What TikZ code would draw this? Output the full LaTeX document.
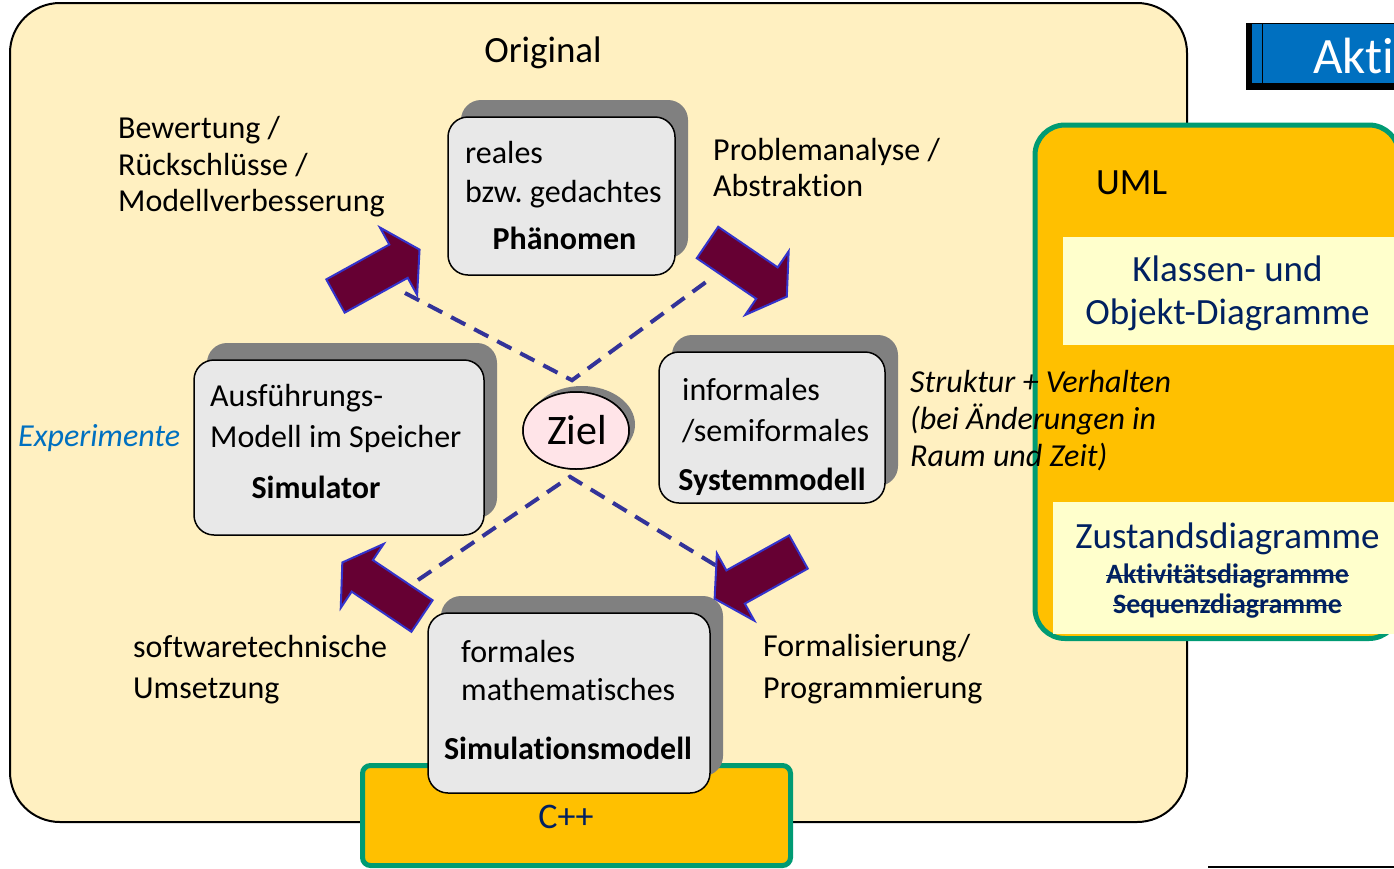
\documentclass[tikz,border=0pt]{standalone}
\usepackage{fontspec}
\setmainfont{Carlito}[Ligatures=NoCommon]
\usetikzlibrary{shapes.geometric,shadows}
\frenchspacing

\definecolor{beige}{RGB}{255,240,193}
\definecolor{gold}{RGB}{255,192,0}
\definecolor{umlgreen}{RGB}{0,155,115}
\definecolor{paleyellow}{RGB}{255,255,204}
\definecolor{navytext}{RGB}{0,32,96}
\definecolor{boxgray}{RGB}{232,232,232}
\definecolor{shadowgray}{RGB}{128,128,128}
\definecolor{zielpink}{RGB}{255,228,232}
\definecolor{arrowfill}{RGB}{102,0,51}
\definecolor{arrowedge}{RGB}{51,51,204}
\definecolor{dashblue}{RGB}{51,51,153}
\definecolor{expblue}{RGB}{0,112,192}

\tikzset{
  fs/.style={font=\fontsize{#1}{#1}\selectfont},
  lbl/.style={inner sep=0pt, anchor=base west, fs=32},
  lblc/.style={inner sep=0pt, anchor=base, fs=32},
  phasebox/.style={draw=black, line width=1.5pt, fill=boxgray, rounded corners=20pt,
    inner sep=0pt, general shadow={fill=shadowgray, shadow xshift=13pt, shadow yshift=17pt}},
  umlframe/.style={draw=umlgreen, line width=5pt, fill=gold, inner sep=0pt},
  notebox/.style={fill=paleyellow, inner sep=0pt},
  goal/.style={dash pattern=on 16pt off 10pt, line width=4pt, draw=dashblue},
  arrowbody/.style={fill=arrowfill, draw=arrowedge, line width=2pt, line join=miter},
  blockarrow/.pic={
    \path[arrowbody] (0,-19) -- (72,-19) -- (72,-38.5) -- (96,0) -- (72,38.5) -- (72,19) -- (0,19) -- cycle;
  },
}

\begin{document}
\begin{tikzpicture}[x=1pt,y=-1pt]
\useasboundingbox (0,0) rectangle (1394,868);
\begin{scope}
\clip (0,0) rectangle (1394,868);

% outer frame
\node[draw=black, line width=2pt, fill=beige, rounded corners=50pt, inner sep=0pt,
      minimum width=1177pt, minimum height=819pt] (orig) at (598.5,412.5) {};
\node[lblc, fs=37] (t-orig) at (543,62) {Original};

% heading bar, cut by the page edge
\node[fill=black, inner sep=0pt, minimum width=160pt, minimum height=67pt, anchor=north west] (bar) at (1246,23) {};
\node[fill=expblue, inner sep=0pt, minimum width=160pt, minimum height=59pt, anchor=north west] (barin) at (1252,24) {};
\draw[black, line width=1.5pt] ([xshift=10.5pt]barin.north west) -- ([xshift=10.5pt]barin.south west);
\node[inner sep=0pt, anchor=base west, fs=51, text=white] (t-bar) at (1313,73) {Akti};

% UML panel
\node[umlframe, rounded corners=30pt, minimum width=364pt, minimum height=513.5pt, anchor=north west] (uml) at (1032.5,122.5) {};
\node[inner sep=0pt, anchor=base west, fs=37] (t-uml) at (1096,194) {UML};
\node[notebox, minimum width=331pt, minimum height=108pt, anchor=north west] (klassen) at (1063,237) {};
\node[inner sep=0pt, anchor=base, fs=37, text=navytext] (t-kl1) at (1227.5,281) {Klassen- und};
\node[inner sep=0pt, anchor=base, fs=37, text=navytext] (t-kl2) at (1227.5,324) {Objekt-Diagramme};
\node[notebox, minimum width=350pt, minimum height=132pt, anchor=north west] (zustand) at (1053,502) {};
\node[inner sep=0pt, anchor=base, fs=37, text=navytext] (t-zu) at (1227.5,548) {Zustandsdiagramme};
\node[inner sep=0pt, anchor=base, fs=28, text=navytext] (t-akt) at (1227.5,583) {\bfseries Aktivitätsdiagramme};
\node[inner sep=0pt, anchor=base, fs=28, text=navytext] (t-seq) at (1227.5,613) {\bfseries Sequenzdiagramme};
\draw[navytext, line width=1.8pt] ([yshift=7.5pt]t-akt.base west) -- ([yshift=7.5pt]t-akt.base east);
\draw[navytext, line width=1.8pt] ([yshift=7.5pt]t-seq.base west) -- ([yshift=7.5pt]t-seq.base east);

% C++ panel
\node[umlframe, rounded corners=8pt, minimum width=428pt, minimum height=100pt] (cpp) at (576.5,815.5) {};
\node[inner sep=0pt, anchor=base, fs=36, text=navytext] (t-cpp) at (566,828) {C++};

% goal and its dashed links
\node[ellipse, draw=black, line width=1.5pt, fill=zielpink, inner sep=0pt,
      minimum width=106pt, minimum height=77pt,
      general shadow={fill=shadowgray, shadow xshift=6pt, shadow yshift=6pt}] (ziel) at (576,430.5) {};
\coordinate (d1) at (405,293);
\coordinate (d2) at (706,282);
\coordinate (d3) at (418,580);
\coordinate (d4) at (720,568);
\draw[goal] (d1) -- ([xshift=-4pt,yshift=11pt]ziel.north) -- (d2);
\draw[goal] (d3) -- ([xshift=-6pt,yshift=-7pt]ziel.south) -- (d4);
\node[ellipse, draw=black, line width=1.5pt, fill=zielpink, inner sep=0pt,
      minimum width=106pt, minimum height=77pt] (zielfront) at (ziel) {};
\node[inner sep=0pt, anchor=base, fs=42] (t-ziel) at (577,444) {Ziel};

% the four model stages
\node[phasebox, minimum width=227pt, minimum height=158pt] (phen) at (561.5,196) {};
\node[phasebox, minimum width=226pt, minimum height=151pt] (sys) at (772,427.5) {};
\node[phasebox, minimum width=290pt, minimum height=175pt] (simu) at (339,447.5) {};
\node[phasebox, minimum width=282pt, minimum height=180pt] (smod) at (569,703) {};

\node[lbl] (t-ph1) at (465,163) {reales};
\node[lbl] (t-ph2) at (465,202) {bzw. gedachtes};
\node[lblc] (t-ph3) at (564.5,249) {\bfseries Phänomen};

\node[lbl] (t-sy1) at (682,400) {informales};
\node[lbl] (t-sy2) at (682,441) {/semiformales};
\node[lblc] (t-sy3) at (772,490) {\bfseries Systemmodell};

\node[lbl] (t-si1) at (210,406) {Ausführungs-};
\node[lbl] (t-si2) at (210,447) {Modell im Speicher};
\node[lblc] (t-si3) at (316,498) {\bfseries Simulator};

\node[lbl] (t-sm1) at (461,662) {formales};
\node[lbl] (t-sm2) at (461,700) {mathematisches};
\node[lblc] (t-sm3) at (568,759) {\bfseries Simulationsmodell};

% transitions between the stages
\pic[rotate=28.9] (arr1) at (335.5,296) {blockarrow};
\pic[rotate=-34.3] (arr2) at (707.5,242.5) {blockarrow};
\pic[rotate=209.1] (arr3) at (798.5,552) {blockarrow};
\pic[rotate=146.1] (arr4) at (422,616) {blockarrow};

% transition labels
\node[lbl] (t-b1) at (118,138) {Bewertung /};
\node[lbl] (t-b2) at (118,175) {Rückschlüsse /};
\node[lbl] (t-b3) at (118,211) {Modellverbesserung};

\node[lbl] (t-p1) at (713,160) {Problemanalyse /};
\node[lbl] (t-p2) at (713,196) {Abstraktion};

\node[lbl] (t-s1) at (910,392) {\itshape Struktur + Verhalten};
\node[lbl] (t-s2) at (910,429) {\itshape (bei Änderungen in};
\node[lbl] (t-s3) at (910,466) {\itshape Raum und Zeit)};

\node[lbl, text=expblue] (t-exp) at (18,446) {\itshape Experimente};

\node[lbl] (t-u1) at (133,657) {softwaretechnische};
\node[lbl] (t-u2) at (133,698) {Umsetzung};

\node[lbl] (t-f1) at (763,656) {Formalisierung/};
\node[lbl] (t-f2) at (763,698) {Programmierung};

% rule at the lower right
\coordinate (r1) at (1208,866.5);
\coordinate (r2) at (1394,866.5);
\draw[black, line width=2pt] (r1) -- (r2);
\end{scope}
\end{tikzpicture}
\end{document}
